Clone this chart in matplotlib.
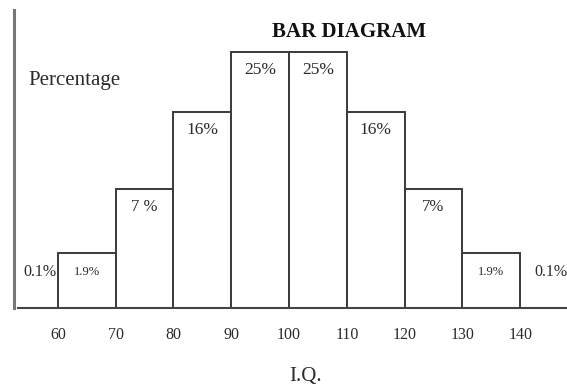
import matplotlib
matplotlib.use("Agg")
import matplotlib.pyplot as plt
import numpy as np

plt.rcParams['font.family'] = ['Liberation Serif', 'DejaVu Serif']

# IQ class intervals and share of population in each
bin_edges = [60, 70, 80, 90, 100, 110, 120, 130, 140]
percentages = [1.9, 7, 16, 25, 25, 16, 7, 1.9]
bar_labels = ['1.9%', '7 %', '16%', '25%', '25%', '16%', '7%', '1.9%']
label_sizes = [9, 12, 12.5, 12.5, 12.5, 12.5, 12, 9]

# tails beyond the drawn classes
tail_x = [56.9, 145.4]
tail_labels = ['0.1%', '0.1%']

tick_values = [60, 70, 80, 90, 100, 110, 120, 130, 140]

edge_col = '#3a3a3a'
text_col = '#2a2a2a'

fig = plt.figure(figsize=(5.67, 3.90), dpi=100)
ax = fig.add_axes([14 / 567, 82 / 390, 553 / 567, 298 / 390])

# compressed vertical scale so the small classes stay visible
p = 0.6
ax.set_yscale('function', functions=(lambda v: np.sign(v) * np.abs(v) ** p,
                                     lambda v: np.sign(v) * np.abs(v) ** (1 / p)))

lefts = np.array(bin_edges[:-1])
widths = np.diff(bin_edges)
ax.bar(lefts, percentages, width=widths, align='edge', color='white',
       edgecolor=edge_col, linewidth=1.4)

for x, h, lab, fs in zip(lefts + widths / 2, percentages, bar_labels, label_sizes):
    ax.annotate(lab, (x, h), xytext=(0, -13), textcoords='offset points',
                ha='center', va='center', fontsize=fs, color=text_col)

for x, lab in zip(tail_x, tail_labels):
    ax.annotate(lab, (x, 0), xytext=(0, 26), textcoords='offset points',
                ha='center', va='center', fontsize=11.5, color=text_col)

ax.set_xlim(52.4, 148.1)
ax.set_ylim(0, 32.2)

ax.set_xticks(tick_values)
ax.set_xticklabels([str(t) for t in tick_values])
ax.tick_params(axis='x', length=0, pad=14, labelsize=11.5, labelcolor=text_col)
ax.set_yticks([])
ax.yaxis.set_minor_locator(matplotlib.ticker.NullLocator())

for s in ['top', 'right']:
    ax.spines[s].set_visible(False)
ax.spines['left'].set_color('#777777')
ax.spines['left'].set_linewidth(2.2)
ax.spines['bottom'].set_color('#444444')
ax.spines['bottom'].set_linewidth(1.5)
ax.spines['bottom'].set_bounds(53.1, 148.1)

fig.text(349 / 567, 1 - 32 / 390, 'BAR DIAGRAM', ha='center', va='center',
         fontsize=15, fontweight='bold', color='#111111')
fig.text(74 / 567, 1 - 80 / 390, 'Percentage', ha='center', va='center',
         fontsize=15, color=text_col)
fig.text(306 / 567, 1 - 377 / 390, 'I.Q.', ha='center', va='center',
         fontsize=15, color=text_col)

fig.savefig('out.png', dpi=100)
